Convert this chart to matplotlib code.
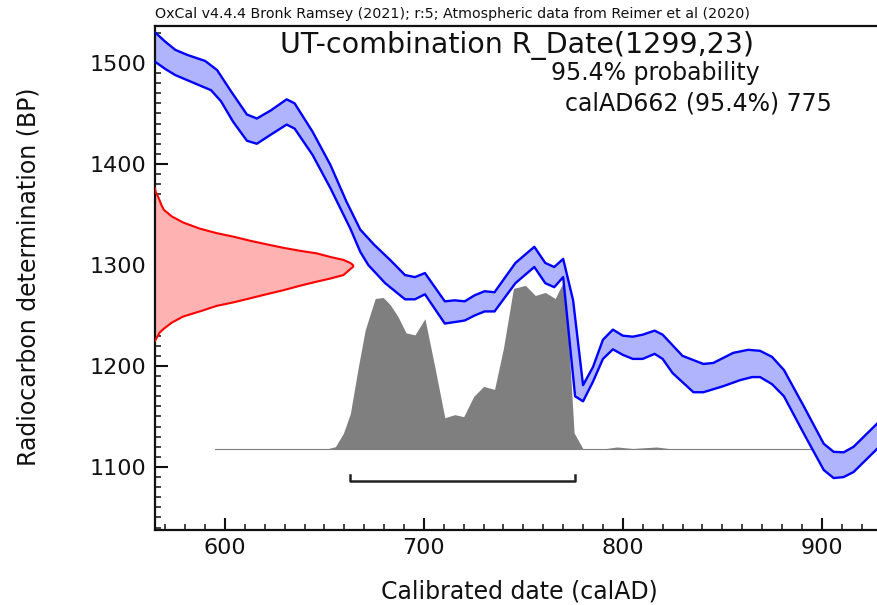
import numpy as np
import matplotlib
matplotlib.use("Agg")
from matplotlib import pyplot as plt
from matplotlib.ticker import MultipleLocator

# calibration curve, upper and lower edges (calAD, BP)
hi_date = [565, 570, 575, 581, 590, 596, 603, 611, 616, 623, 631, 635, 644, 653, 661, 668, 675, 683,
           690.5, 695.5, 700.5, 710.5, 715.5, 720.5, 725.5, 730.5, 735.5, 746, 755.5, 761, 765.5,
           770, 775, 780, 785, 790, 795, 800, 805, 810, 816, 820, 830, 840.5, 845.5, 855.5, 863,
           869, 875, 881, 891, 901, 906, 911, 916, 932]
hi_bp = [1530, 1521, 1513, 1508, 1502, 1493, 1472, 1449, 1445, 1453, 1464, 1460, 1432, 1399, 1363, 1335,
         1320, 1305, 1290, 1288, 1292, 1264, 1265, 1264, 1270, 1274, 1273, 1302, 1318, 1302, 1298,
         1306, 1265, 1181, 1199, 1226, 1236, 1230, 1229, 1231, 1235, 1231, 1210, 1202, 1203, 1213,
         1216, 1215, 1209, 1196, 1160, 1123, 1115, 1114.5, 1120, 1151]
lo_date = [565, 570, 575, 587, 593, 598, 604, 611, 616, 623, 631, 635, 644, 653, 663, 668, 672, 680.5,
           690.5, 695.5, 700.5, 710.5, 720.5, 725.5, 730.5, 735.5, 746, 755.5, 761, 765.5, 770,
           776, 780, 785, 790, 795, 800, 805, 810, 816, 820, 825, 835.5, 840.5, 850.5, 859, 865,
           869, 875, 881, 891, 901, 906, 911, 916, 932]
lo_bp = [1501, 1494, 1488, 1478, 1473, 1462, 1442, 1423, 1420, 1429, 1439, 1435, 1409, 1376, 1336, 1313,
         1300, 1282, 1266, 1266, 1271, 1242, 1245, 1250, 1254, 1254, 1282, 1298, 1282, 1278, 1288,
         1170, 1165, 1184.5, 1207, 1216.5, 1211, 1207, 1207, 1212, 1207, 1193, 1174, 1174, 1180,
         1186, 1189, 1189, 1182, 1170, 1133, 1097, 1089, 1090, 1095, 1126]

# radiocarbon date R_Date(1299,23), profile width in years off the left axis
r_bp = [1376, 1372, 1369, 1364, 1359, 1354.5, 1348, 1342, 1336, 1331.5, 1328, 1324, 1320.5, 1317,
        1314, 1311.5, 1308, 1305, 1302, 1300, 1299, 1298, 1296, 1293, 1290, 1286.5, 1283.5, 1279.5,
        1275, 1271, 1267, 1263, 1259.5, 1254, 1249, 1243, 1237, 1233, 1229, 1225]
r_width = [0, 0.4, 1.2, 2.3, 3.3, 4.5, 8.5, 14.2, 22.5, 31, 39.5, 47.8, 56, 64.5, 73, 81.3, 88,
           94.7, 98.2, 99.5, 99.7, 99.5, 98.2, 96.5, 94.7, 88, 81.3, 73, 64.5, 56, 47.8, 39.5, 31,
           22.5, 14.2, 8.5, 4.5, 2.3, 1.2, 0]

# calibrated distribution (height in BP units above the baseline)
p_date = [595, 651, 655.5, 659.5, 663, 667, 670.5, 675.5, 679.5, 683, 687, 691, 695.5, 700.5,
          705.5, 710.5, 715.5, 720, 725, 730, 735.5, 740, 745, 751, 756, 761, 766, 770.5, 773,
          775.5, 780, 790, 797, 805, 817, 825, 901]
p_height = [0, 0, 2.3, 15.5, 35, 81, 118, 149, 150, 143, 131, 115, 113, 129, 81, 31, 34, 32, 52,
            62, 59, 100, 159, 162, 152, 155, 149, 167, 100, 16, 0, 0, 2, 0.5, 2, 0, 0]
p_base = 1117.8

range_lo, range_hi = 663, 776
bracket_bp = 1086

fig = plt.figure(figsize=(8.78, 6.05), dpi=100)
ax = fig.add_axes([155 / 878, 75 / 605, 730 / 878, 504 / 605])

x0 = 564.8
ax.fill(hi_date + lo_date[::-1], hi_bp + lo_bp[::-1], color='#b0b4fc', lw=0, zorder=2)
ax.plot(hi_date, hi_bp, color='#0000ff', lw=1.7, zorder=3)
ax.plot(lo_date, lo_bp, color='#0000ff', lw=1.7, zorder=3)

rx = [x0 + w for w in r_width]
ax.fill_betweenx(r_bp, x0, rx, color='#ffb2b2', lw=0, zorder=2)
ax.plot(rx, r_bp, color='#ff0000', lw=1.5, zorder=3)

ax.fill_between(p_date, p_base, [p_base + h for h in p_height], color='#7f7f7f', lw=0, zorder=1)
ax.plot([p_date[0], p_date[-1]], [p_base, p_base], color='#7f7f7f', lw=0.8, zorder=1)

ax.plot([range_lo, range_lo, range_hi, range_hi],
        [bracket_bp + 6, bracket_bp, bracket_bp, bracket_bp + 6], color='#222222', lw=1.8)

ax.set_xlim(x0, 931.8)
ax.set_ylim(1037.6, 1536.6)
ax.xaxis.set_major_locator(MultipleLocator(100))
ax.xaxis.set_minor_locator(MultipleLocator(10))
ax.yaxis.set_major_locator(MultipleLocator(100))
ax.yaxis.set_minor_locator(MultipleLocator(10))
ax.tick_params(which='major', direction='in', length=9, width=1.5, labelsize=16, pad=6,
               color='#111111', labelcolor='#111111')
ax.tick_params(which='minor', direction='in', length=4.5, width=1.1, color='#111111')
ax.tick_params(top=False, right=False)
for s in ax.spines.values():
    s.set_linewidth(1.6)
    s.set_color('#111111')

fig.text(29 / 878, 1 - 277 / 605, 'Radiocarbon determination (BP)', rotation=90,
         ha='center', va='center', fontsize=17, color='#111111')
fig.text(519 / 878, 1 - 592 / 605, 'Calibrated date (calAD)', ha='center', va='center',
         fontsize=17, color='#111111')
fig.text(155 / 878, 1 - 14 / 605,
         'OxCal v4.4.4 Bronk Ramsey (2021); r:5; Atmospheric data from Reimer et al (2020)',
         ha='left', va='center', fontsize=10.3, color='#111111')
fig.text(517 / 878, 1 - 45 / 605, 'UT-combination R_Date(1299,23)', ha='center', va='center',
         fontsize=20.5, color='#111111')
fig.text(760 / 878, 1 - 73 / 605, '95.4% probability', ha='right', va='center',
         fontsize=17, color='#111111')
fig.text(832 / 878, 1 - 104 / 605, 'calAD662 (95.4%) 775', ha='right', va='center',
         fontsize=17, color='#111111')

fig.savefig('out.png', dpi=100)
